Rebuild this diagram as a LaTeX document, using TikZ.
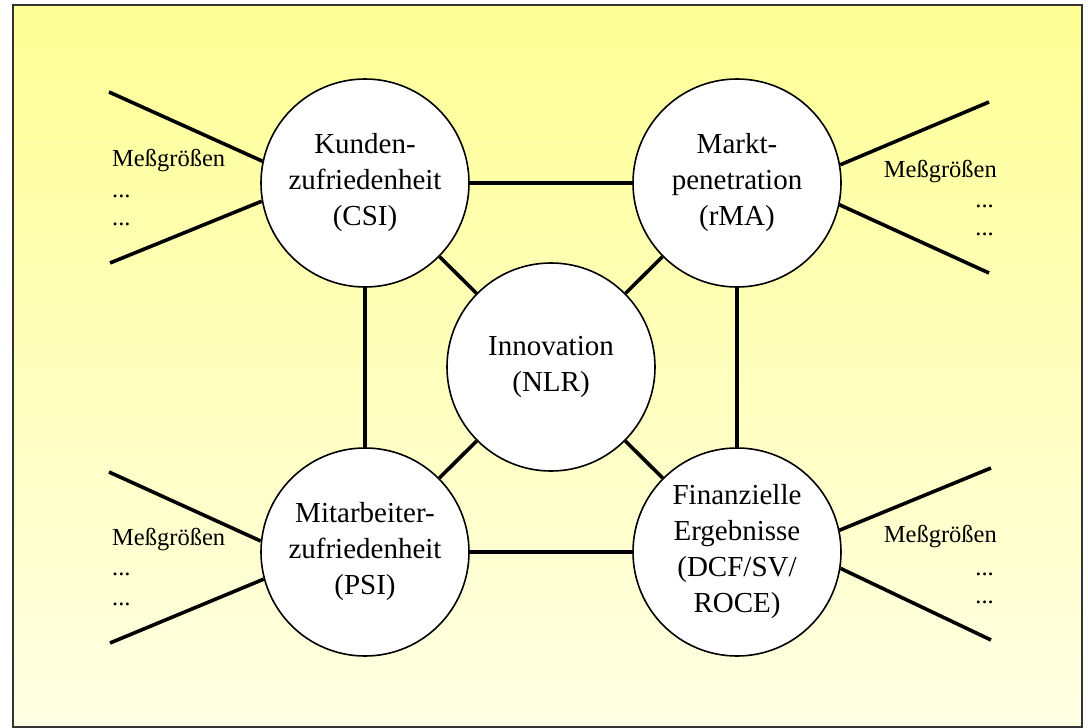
\documentclass[tikz,border=0pt]{standalone}
\usepackage{fontspec}
\setmainfont{Liberation Serif}
\begin{document}
\begin{tikzpicture}[x=1pt,y=-1pt,
  kpi/.style={circle, draw=black, line width=1.6pt, fill=white,
    minimum size=208pt, inner sep=0pt, align=center,
    font=\fontsize{29}{36}\selectfont},
  link/.style={line width=3.6pt},
  lbl/.style={inner sep=0pt, font=\fontsize{24.5}{30}\selectfont}]
\useasboundingbox (0,0) rectangle (1088,728);
% framed background panel
\shade[top color={rgb,255:red,255;green,255;blue,150},
       bottom color={rgb,255:red,255;green,255;blue,228}]
  (13,5) rectangle (1082,727);
\draw[line width=1.5pt, black!80] (13,5) rectangle (1082,727);

% key figures
\node[kpi] (K) at (365,183) {Kunden-\\zufriedenheit\\(CSI)};
\node[kpi] (M) at (737,183) {Markt-\\penetration\\(rMA)};
\node[kpi] (I) at (551,367) {Innovation\\(NLR)};
\node[kpi] (P) at (365,552) {Mitarbeiter-\\zufriedenheit\\(PSI)};
\node[kpi] (F) at (737,552) {Finanzielle\\Ergebnisse\\(DCF/SV/\\ROCE)};

% links between the key figures
\draw[link] (K) -- (M);
\draw[link] (P) -- (F);
\draw[link] (K) -- (P);
\draw[link] (M) -- (F);
\draw[link] (I) -- (K);
\draw[link] (I) -- (M);
\draw[link] (I) -- (P);
\draw[link] (I) -- (F);

% outer ends of the measure spokes
\coordinate (ka) at (109,92);
\coordinate (kb) at (110,263);
\coordinate (ma) at (989,102);
\coordinate (mb) at (989,273);
\coordinate (pa) at (109,472);
\coordinate (pb) at (110,643);
\coordinate (fa) at (991,468);
\coordinate (fb) at (991,640);

\draw[link] (ka) -- (K.168.8);
\draw[link] (kb) -- (K.190.5);
\draw[link] (ma) -- (M.10.3);
\draw[link] (mb) -- (M.-12);
\draw[link] (pa) -- (P.174);
\draw[link] (pb) -- (P.195);
\draw[link] (fa) -- (F.12.6);
\draw[link] (fb) -- (F.-9.8);

% measure labels
\node[lbl, anchor=base west] (kl)  at (112,166) {Meßgrößen};
\node[lbl, anchor=base west] (kd1) at (112,197) {...};
\node[lbl, anchor=base west] (kd2) at (112,225) {...};

\node[lbl, anchor=base east] (ml)  at (997,177) {Meßgrößen};
\node[lbl, anchor=base east] (md1) at (994,207) {...};
\node[lbl, anchor=base east] (md2) at (994,235) {...};

\node[lbl, anchor=base west] (pl)  at (112,545) {Meßgrößen};
\node[lbl, anchor=base west] (pd1) at (112,575) {...};
\node[lbl, anchor=base west] (pd2) at (112,605) {...};

\node[lbl, anchor=base east] (fl)  at (997,542) {Meßgrößen};
\node[lbl, anchor=base east] (fd1) at (994,575) {...};
\node[lbl, anchor=base east] (fd2) at (994,603) {...};
\end{tikzpicture}
\end{document}
